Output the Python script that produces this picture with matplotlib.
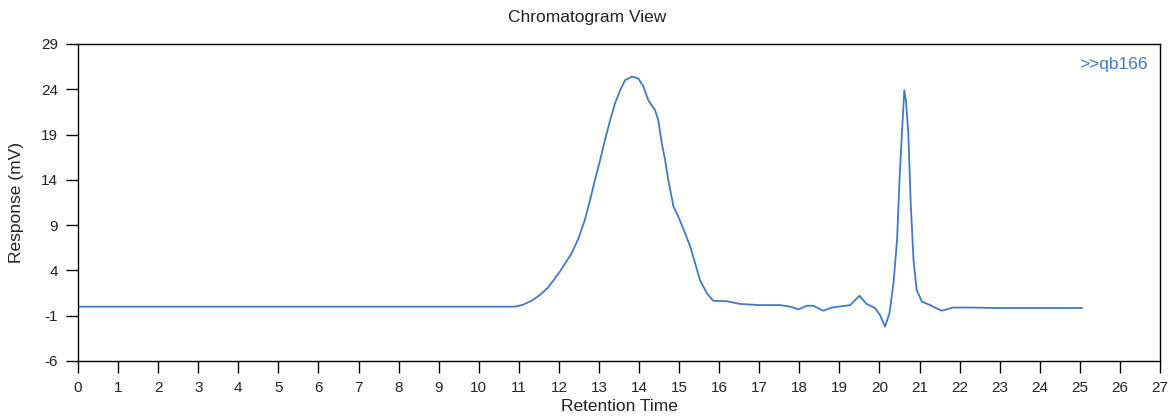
#!/usr/bin/env python3
"""Chromatogram trace for sample qb166."""

import matplotlib
matplotlib.use('Agg')
import matplotlib.pyplot as plt

# Retention time (min) and detector response (mV)
retention_time = [
    0.0, 10.03, 10.9, 11.1, 11.32, 11.53, 11.73, 12.03, 12.32, 12.49, 12.65,
    12.78, 12.9, 13.03, 13.15, 13.28, 13.4, 13.53, 13.65, 13.82, 13.98,
    14.11, 14.23, 14.4, 14.48, 14.57, 14.65, 14.73, 14.86, 14.98, 15.15,
    15.28, 15.4, 15.52, 15.69, 15.85, 16.19, 16.52, 17.02, 17.52, 17.77,
    17.98, 18.19, 18.35, 18.6, 18.81, 19.27, 19.5, 19.68, 19.89, 20.01,
    20.14, 20.25, 20.35, 20.44, 20.5, 20.56, 20.62, 20.66, 20.72, 20.78,
    20.85, 20.93, 21.06, 21.25, 21.55, 21.84, 22.34, 22.84, 24.09, 25.05,
]
response = [
    0.0, 0.0, 0.0, 0.2, 0.65, 1.3, 2.1, 3.9, 5.9, 7.55, 9.6,
    11.8, 14.0, 16.2, 18.4, 20.6, 22.45, 23.9, 25.0, 25.4, 25.2,
    24.3, 22.8, 21.7, 20.6, 18.0, 16.2, 14.0, 11.05, 9.95, 8.1,
    6.6, 4.8, 2.95, 1.5, 0.65, 0.6, 0.3, 0.17, 0.17, 0.0,
    -0.3, 0.1, 0.1, -0.45, -0.1, 0.17, 1.2, 0.3, -0.15, -0.9,
    -2.2, -0.75, 2.6, 7.4, 14.0, 19.15, 23.9, 22.8, 19.15, 11.4,
    5.15, 1.8, 0.55, 0.2, -0.45, -0.1, -0.1, -0.15, -0.15, -0.15,
]

x_ticks = list(range(0, 28))
y_ticks = [-6, -1, 4, 9, 14, 19, 24, 29]
sample_name = '>>qb166'
line_color = '#3f7bc8'

plt.rcParams['font.family'] = ['Liberation Sans', 'DejaVu Sans']
plt.rcParams['axes.unicode_minus'] = False

fig = plt.figure(figsize=(11.75, 4.17), dpi=100)
ax = fig.add_axes([0.0664, 0.1343, 0.9208, 0.7602])

ax.plot(retention_time, response, color=line_color, linewidth=1.3)

ax.set_xlim(0, 27)
ax.set_ylim(-6, 29)
ax.set_xticks(x_ticks)
ax.set_yticks(y_ticks)
ax.tick_params(axis='both', direction='out', length=8.5, width=1,
               labelsize=11, color='black', labelcolor='#222222', pad=6)
for spine in ax.spines.values():
    spine.set_linewidth(1)
    spine.set_color('black')

ax.set_xlabel('Retention Time', fontsize=12.5, va='center', color='#222222')
ax.xaxis.set_label_coords(0.5, -0.142)
ax.set_ylabel('Response (mV)', fontsize=12.5, va='center', color='#222222')
ax.yaxis.set_label_coords(-0.0564, 0.5)
fig.text(0.5, 0.959, 'Chromatogram View', ha='center', va='center',
         fontsize=12.5, color='#222222')

ax.text(0.989, 0.934, sample_name, transform=ax.transAxes, ha='right',
        va='center', color=line_color, fontsize=12.5)

plt.savefig('out.png', dpi=100)
plt.close()
